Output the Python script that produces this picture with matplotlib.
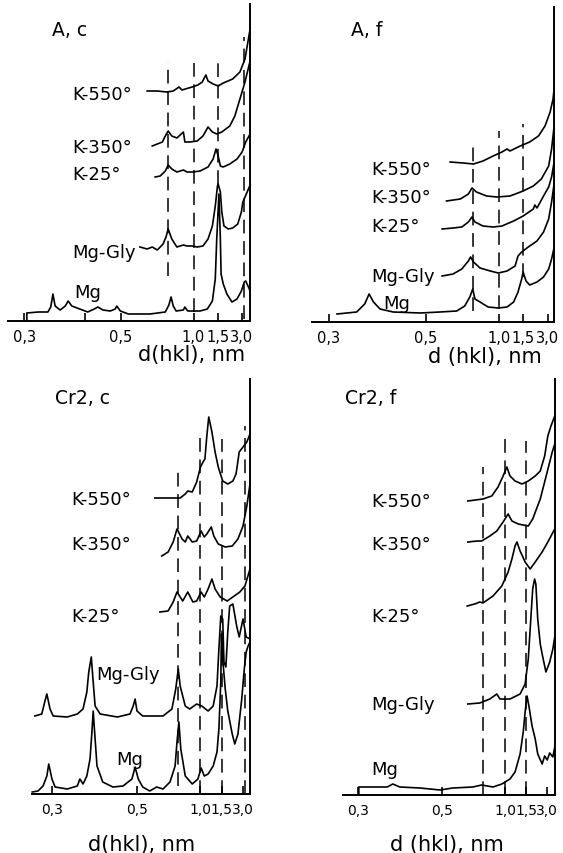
import matplotlib
matplotlib.use("Agg")
import matplotlib.pyplot as plt

plt.rcParams['font.family'] = ['DejaVu Sans']

# ---------------- data: reciprocal spacing s = 1/d (nm^-1) vs intensity (arb.) ----------------
# Panel A, c
ac_mg_s = [3.30, 3.30, 3.14, 3.01, 2.97, 2.94, 2.91, 2.84, 2.77, 2.73, 2.68, 2.57, 2.46, 2.37, 2.32, 2.25, 2.15,
           2.08, 2.06, 2.01, 1.90, 1.60, 1.39, 1.34, 1.31, 1.28, 1.24, 1.14, 1.12, 1.08, 0.91, 0.81, 0.74, 0.70,
           0.68, 0.65, 0.63, 0.62, 0.59, 0.54, 0.47, 0.40, 0.34, 0.30, 0.28, 0.23, 0.22]
ac_mg_i = [0, 8, 9, 9, 14, 27, 15, 11, 15, 20, 15, 12, 9, 12, 14, 11, 10,
           12, 15, 10, 7, 7, 9, 16, 24, 15, 10, 11, 14, 10, 10, 12, 20, 42,
           82, 127, 82, 47, 37, 27, 19, 22, 30, 39, 40, 32, 29]
ac_gly_s = [1.74, 1.64, 1.57, 1.50, 1.42, 1.38, 1.35, 1.30, 1.23, 1.14, 1.09, 1.02, 0.95, 0.87, 0.80, 0.74, 0.70,
            0.67, 0.66, 0.63, 0.61, 0.58, 0.52, 0.46, 0.39, 0.34, 0.32, 0.26, 0.22]
ac_gly_i = [74, 72, 74, 71, 77, 84, 92, 82, 74, 76, 75, 75, 74, 75, 82, 95, 115,
            135, 137, 129, 109, 95, 92, 93, 97, 109, 119, 129, 136]
ac_k25_s = [1.53, 1.46, 1.39, 1.35, 1.30, 1.23, 1.14, 1.09, 1.01, 0.91, 0.80, 0.73, 0.69, 0.66, 0.63, 0.59, 0.50,
            0.40, 0.33, 0.28, 0.22]
ac_k25_i = [144, 145, 150, 156, 152, 149, 151, 149, 149, 150, 154, 162, 172, 165, 155, 154, 157,
            162, 169, 179, 187]
ac_k350_s = [1.57, 1.50, 1.43, 1.39, 1.35, 1.30, 1.23, 1.14, 1.12, 1.05, 0.95, 0.87, 0.80, 0.74, 0.68, 0.61, 0.50,
             0.43, 0.36, 0.29, 0.22]
ac_k350_i = [175, 177, 179, 185, 190, 185, 183, 189, 179, 179, 180, 185, 194, 189, 187, 189, 195,
             205, 222, 239, 260]
ac_k550_s = [1.64, 1.50, 1.37, 1.28, 1.20, 1.16, 1.02, 0.94, 0.88, 0.83, 0.80, 0.73, 0.66, 0.59, 0.46, 0.36, 0.29,
             0.25, 0.22]
ac_k550_i = [230, 230, 229, 230, 234, 231, 234, 236, 239, 246, 240, 237, 235, 238, 242, 249, 262,
             279, 292]

# Panel A, f
af_mg_s = [3.22, 2.95, 2.84, 2.78, 2.72, 2.63, 2.45, 2.08, 1.81, 1.58, 1.47, 1.40, 1.36, 1.33, 1.26, 1.15, 1.01,
           0.89, 0.80, 0.74, 0.69, 0.67, 0.63, 0.58, 0.48, 0.39, 0.32, 0.28, 0.25]
af_mg_i = [8, 10, 18, 28, 20, 13, 10, 9, 10, 11, 16, 25, 33, 23, 20, 15, 14,
           15, 20, 30, 43, 50, 41, 37, 40, 45, 53, 63, 73]
af_gly_s = [1.78, 1.63, 1.51, 1.42, 1.39, 1.35, 1.26, 1.12, 1.01, 0.89, 0.78, 0.74, 0.69, 0.60, 0.48, 0.39, 0.32,
            0.28, 0.25]
af_gly_i = [46, 48, 53, 61, 65, 60, 54, 51, 49, 51, 56, 66, 70, 75, 81, 90, 103,
            120, 136]
af_k25_s = [1.78, 1.63, 1.51, 1.42, 1.37, 1.33, 1.22, 1.08, 0.96, 0.80, 0.67, 0.53, 0.51, 0.48, 0.39, 0.32, 0.28,
            0.25]
af_k25_i = [93, 94, 95, 100, 105, 100, 96, 95, 96, 101, 106, 113, 117, 114, 126, 135, 145,
            158]
af_k350_s = [1.72, 1.53, 1.42, 1.37, 1.31, 1.17, 1.03, 0.85, 0.67, 0.53, 0.42, 0.32, 0.28, 0.25]
af_k350_i = [121, 123, 128, 134, 130, 126, 125, 126, 131, 136, 143, 156, 173, 193]
af_k550_s = [1.67, 1.49, 1.35, 1.22, 1.08, 0.96, 0.89, 0.85, 0.71, 0.58, 0.46, 0.37, 0.30, 0.26, 0.25]
af_k550_i = [160, 159, 158, 161, 166, 170, 173, 171, 176, 180, 186, 196, 210, 223, 230]

# Panel Cr2, c
cc_mg_s = [3.65, 3.56, 3.48, 3.42, 3.39, 3.34, 3.29, 3.10, 2.94, 2.90, 2.85, 2.79, 2.74, 2.71, 2.69, 2.66, 2.63,
           2.54, 2.38, 2.22, 2.08, 2.03, 1.98, 1.91, 1.80, 1.69, 1.59, 1.48, 1.40, 1.37, 1.34, 1.31, 1.24, 1.13,
           1.04, 0.99, 0.94, 0.88, 0.80, 0.74, 0.71, 0.68, 0.67, 0.65, 0.61, 0.57, 0.50, 0.46, 0.41, 0.35, 0.31,
           0.28, 0.25, 0.22]
cc_mg_i = [2, 3, 8, 18, 30, 15, 7, 5, 8, 15, 10, 18, 35, 62, 83, 55, 28,
           12, 7, 8, 15, 27, 15, 7, 3, 7, 5, 12, 28, 52, 72, 45, 18, 10,
           15, 26, 18, 20, 28, 42, 65, 112, 160, 135, 105, 83, 60, 50, 60, 95, 125,
           142, 148, 152]
cc_gly_s = [3.61, 3.50, 3.45, 3.42, 3.37, 3.32, 3.10, 2.94, 2.85, 2.79, 2.76, 2.72, 2.69, 2.66, 2.58, 2.31, 2.11,
            2.06, 2.03, 2.00, 1.91, 1.59, 1.45, 1.39, 1.35, 1.32, 1.24, 1.17, 1.06, 0.98, 0.88, 0.80, 0.74, 0.71,
            0.68, 0.65, 0.63, 0.60, 0.57, 0.54, 0.49, 0.43, 0.39, 0.33, 0.28, 0.22]
cc_gly_i = [78, 80, 93, 100, 85, 78, 77, 80, 85, 102, 122, 137, 112, 88, 80, 77, 80,
            88, 95, 83, 78, 78, 85, 105, 125, 108, 88, 85, 90, 88, 83, 88, 108, 145,
            178, 175, 132, 127, 162, 188, 190, 168, 157, 175, 157, 155]
cc_k25_s = [1.64, 1.51, 1.43, 1.37, 1.28, 1.20, 1.12, 1.06, 0.99, 0.94, 0.88, 0.82, 0.77, 0.69, 0.58, 0.49, 0.38,
            0.30, 0.22]
cc_k25_i = [182, 183, 192, 202, 193, 202, 192, 193, 202, 197, 205, 215, 205, 197, 193, 197, 202,
            208, 225]
cc_k350_s = [1.61, 1.51, 1.43, 1.37, 1.29, 1.24, 1.20, 1.13, 1.06, 0.99, 0.94, 0.90, 0.83, 0.79, 0.72, 0.61, 0.50,
             0.41, 0.33, 0.27, 0.22]
cc_k350_i = [238, 242, 252, 265, 255, 252, 258, 252, 253, 263, 257, 260, 267, 258, 250, 247, 248,
             255, 268, 288, 310]
cc_k550_s = [1.72, 1.32, 1.24, 1.20, 1.13, 1.06, 1.00, 0.96, 0.93, 0.90, 0.87, 0.82, 0.77, 0.72, 0.65, 0.57, 0.49,
             0.44, 0.41, 0.39, 0.33, 0.27, 0.22]
cc_k550_i = [296, 296, 300, 303, 302, 312, 327, 332, 335, 358, 377, 362, 342, 327, 313, 310, 313,
             320, 333, 342, 347, 352, 360]

# Panel Cr2, f
cf_mg_s = [3.32, 3.32, 3.10, 2.87, 2.78, 2.67, 2.35, 2.03, 1.83, 1.51, 1.37, 1.19, 1.05, 0.92, 0.84, 0.76, 0.71,
           0.68, 0.65, 0.62, 0.57, 0.52, 0.48, 0.41, 0.37, 0.33, 0.29, 0.24, 0.21]
cf_mg_i = [0, 8, 8, 8, 11, 8, 7, 5, 7, 8, 10, 8, 11, 16, 23, 41, 63,
           83, 99, 89, 69, 56, 41, 31, 39, 35, 42, 38, 48]
cf_gly_s = [1.59, 1.40, 1.24, 1.13, 1.08, 0.92, 0.76, 0.68, 0.63, 0.59, 0.56, 0.53, 0.51, 0.48, 0.44, 0.41, 0.35,
            0.29, 0.24, 0.21]
cf_gly_i = [91, 92, 96, 101, 96, 96, 101, 111, 136, 176, 206, 216, 211, 176, 151, 141, 123,
            133, 146, 158]
cf_k25_s = [1.60, 1.48, 1.40, 1.35, 1.19, 1.05, 0.95, 0.89, 0.84, 0.81, 0.76, 0.68, 0.60, 0.52, 0.41, 0.32, 0.21]
cf_k25_i = [189, 191, 193, 192, 199, 209, 223, 236, 249, 253, 244, 233, 226, 233, 243, 253, 266]
cf_k350_s = [1.59, 1.44, 1.37, 1.24, 1.13, 1.03, 0.95, 0.89, 0.79, 0.63, 0.56, 0.44, 0.33, 0.25, 0.21]
cf_k350_i = [253, 254, 254, 259, 264, 273, 281, 274, 271, 269, 276, 296, 323, 343, 351]
cf_k550_s = [1.59, 1.35, 1.21, 1.11, 1.03, 0.97, 0.92, 0.84, 0.73, 0.63, 0.52, 0.44, 0.37, 0.32, 0.27, 0.24, 0.21]
cf_k550_i = [294, 296, 299, 308, 319, 328, 319, 314, 311, 314, 319, 324, 339, 359, 369, 374, 379]

# reference spacings d (nm) drawn as dashed lines, with their vertical extent (intensity units)
ref_d = [0.74, 1.0, 1.5, 3.3]
ac_ref_span = [(45, 259), (9, 264), (137, 265), (2, 284)]
af_ref_span = [(11, 176), (13, 191), (45, 198), None]
cc_ref_span = [(8, 328), (0, 360), (0, 355), (0, 368)]
cf_ref_span = [(0, 328), (0, 361), (0, 354), None]

tick_d = [0.3, 0.5, 1.0, 1.5, 3.0]
tick_labels = ['0,3', '0,5', '1,0', '1,5', '3,0']
sample_names = ['K-550°', 'K-350°', 'K-25°', 'Mg-Gly', 'Mg']

# ---------------- figure ----------------
W, H = 563, 854
fig = plt.figure(figsize=(W / 100, H / 100), dpi=100)


def make_axes(x0, x1, ytop, ybot, xlim, ylim, tick_fs):
    ax = fig.add_axes([x0 / W, 1 - ybot / H, (x1 - x0) / W, (ybot - ytop) / H])
    ax.set_xlim(*xlim)
    ax.set_ylim(*ylim)
    for side in ('left', 'top'):
        ax.spines[side].set_visible(False)
    for side in ('bottom', 'right'):
        ax.spines[side].set_linewidth(1.4)
    ax.set_yticks([])
    ax.set_xticks([1 / d for d in tick_d])
    ax.set_xticklabels(tick_labels, fontsize=tick_fs)
    ax.tick_params(axis='x', direction='in', length=6, width=1.2, pad=6)
    ax.patch.set_alpha(0)
    return ax


def ftext(x, y, s, **kw):
    fig.text(x / W, 1 - y / H, s, **kw)


panels = [
    dict(box=(8, 250, 5, 322), xlim=(3.56, 0.221), ylim=(0, 317), tick_fs=10.5,
         traces=[(ac_k550_s, ac_k550_i), (ac_k350_s, ac_k350_i), (ac_k25_s, ac_k25_i),
                 (ac_gly_s, ac_gly_i), (ac_mg_s, ac_mg_i)],
         spans=ac_ref_span, title='A, c', title_xy=(52, 31),
         label_xy=[(72, 95), (72, 148), (72, 175), (72, 253), (74, 293)],
         xlabel='d(hkl), nm', xlabel_xy=(192, 355)),
    dict(box=(312, 554, 8, 323), xlim=(3.562, 0.247), ylim=(0, 315), tick_fs=10.5,
         traces=[(af_k550_s, af_k550_i), (af_k350_s, af_k350_i), (af_k25_s, af_k25_i),
                 (af_gly_s, af_gly_i), (af_mg_s, af_mg_i)],
         spans=af_ref_span, title='A, f', title_xy=(351, 30),
         label_xy=[(371, 170), (371, 198), (371, 227), (371, 277), (383, 304)],
         xlabel='d (hkl), nm', xlabel_xy=(485, 357)),
    dict(box=(32, 250, 380, 795), xlim=(3.654, 0.220), ylim=(0, 415), tick_fs=10,
         traces=[(cc_k550_s, cc_k550_i), (cc_k350_s, cc_k350_i), (cc_k25_s, cc_k25_i),
                 (cc_gly_s, cc_gly_i), (cc_mg_s, cc_mg_i)],
         spans=cc_ref_span, title='Cr2, c', title_xy=(55, 398),
         label_xy=[(71, 500), (71, 545), (71, 617), (96, 675), (116, 760)],
         xlabel='d(hkl), nm', xlabel_xy=(142, 845)),
    dict(box=(343, 555, 380, 796), xlim=(3.571, 0.206), ylim=(0, 416), tick_fs=10,
         traces=[(cf_k550_s, cf_k550_i), (cf_k350_s, cf_k350_i), (cf_k25_s, cf_k25_i),
                 (cf_gly_s, cf_gly_i), (cf_mg_s, cf_mg_i)],
         spans=cf_ref_span, title='Cr2, f', title_xy=(345, 398),
         label_xy=[(371, 502), (371, 545), (371, 617), (371, 705), (371, 770)],
         xlabel='d (hkl), nm', xlabel_xy=(447, 845)),
]

for p in panels:
    x0, x1, yt, yb = p['box']
    ax = make_axes(x0, x1, yt, yb, p['xlim'], p['ylim'], p['tick_fs'])
    for d, span in zip(ref_d, p['spans']):
        if span is None:
            continue
        ax.plot([1 / d, 1 / d], span, color='black', lw=1.1,
                linestyle=(0, (9, 5)), clip_on=False)
    for s, inten in p['traces']:
        ax.plot(s, inten, color='black', lw=1.2, clip_on=False, solid_joinstyle='round')
    for name, (tx, ty) in zip(sample_names, p['label_xy']):
        ftext(tx, ty, name, fontsize=13, va='center', ha='left')
    ftext(p['title_xy'][0], p['title_xy'][1], p['title'], fontsize=13.5, va='center', ha='left')
    ftext(p['xlabel_xy'][0], p['xlabel_xy'][1], p['xlabel'], fontsize=15, va='center', ha='center')
    if p['title'] == 'A, c':
        ax.set_xticks([1 / 0.4], minor=True)
        ax.tick_params(axis='x', which='minor', direction='in', length=6, width=1.2)

fig.savefig('out.png', dpi=100, facecolor='white')
